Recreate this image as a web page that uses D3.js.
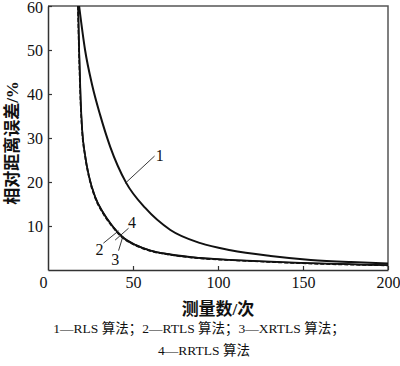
<!DOCTYPE html>
<html>
<head>
<meta charset="utf-8">
<script src="https://cdn.jsdelivr.net/npm/d3@7"></script>
<style>
  body { margin: 0; background: #fff; }
  svg { display: block; font-family: "Liberation Serif", "Noto Sans CJK SC", serif; }
</style>
</head>
<body>
<div class="chart"></div>
<script>
var rlsX = [18.3, 21.8, 26.0, 30.7, 36.6, 46.0, 57.2, 72.0, 89.7, 107.4, 131.0, 154.6, 178.2, 200];
var rlsY = [60, 50, 42.0, 35.2, 28.0, 19.8, 14.1, 9.1, 6.1, 4.5, 3.2, 2.3, 1.8, 1.5];

var rtlsX = [17.7, 18.3, 19.2, 20.1, 21.8, 24.2, 27.7, 32.4, 37.8, 43.7, 51.3, 60.2, 72.0, 89.7, 113.3, 148.7, 200];
var rtlsY = [60, 50, 38.6, 31.8, 26.1, 21.1, 16.6, 13.0, 10.0, 7.5, 5.7, 4.4, 3.5, 2.7, 2.2, 1.6, 1.1];

var xrtlsX = [17.5, 18.1, 19.0, 19.9, 21.6, 24.0, 27.5, 32.2, 37.6, 43.5, 51.1, 60.0, 72.0, 89.7, 113.3, 148.7, 200];
var xrtlsY = [60, 50, 38.6, 31.8, 26.1, 21.1, 16.5, 12.9, 9.9, 7.4, 5.6, 4.3, 3.4, 2.6, 2.1, 1.5, 1.0];

var rrtlsX = [17.8, 18.4, 19.3, 20.2, 21.9, 24.3, 27.8, 32.5, 37.9, 43.8, 51.4, 60.3, 72.0, 89.7, 113.3, 148.7, 200];
var rrtlsY = [60, 50, 38.6, 31.8, 26.2, 21.2, 16.7, 13.1, 10.1, 7.6, 5.8, 4.5, 3.6, 2.8, 2.2, 1.6, 1.1];

var xTicks = [0, 50, 100, 150, 200];
var yTicks = [10, 20, 30, 40, 50, 60];

// curve labels: point on curve, end of leader line, label position (data units)
var labelNames = ["1", "2", "3", "4"];
var labelCurve = [[45.4, 19.7], [41.5, 8.9], [44.1, 7.7], [39.5, 6.8]];
var labelEnd = [[62.7, 25.9], [32.6, 6.1], [41.5, 4.4], [47.4, 9.5]];
var labelPos = [[65.7, 26.1], [30.3, 4.7], [39.5, 2.4], [49.4, 10.8]];

var width = 400;
var height = 366;
var margin = {top: 6, right: 12, bottom: 96, left: 48};
var plotW = width - margin.left - margin.right;
var plotH = height - margin.top - margin.bottom;

var svg = d3.select(".chart").append("svg")
    .attr("width", width)
    .attr("height", height);

var g = svg.append("g")
    .attr("transform", "translate(" + margin.left + "," + margin.top + ")");

var x = d3.scaleLinear().domain([0, 200]).range([0, plotW]);
var y = d3.scaleLinear().domain([0, 60]).range([plotH, 0]);

svg.append("defs").append("clipPath").attr("id", "clip")
    .append("rect").attr("width", plotW).attr("height", plotH);

// frame (top & right)
g.append("path")
    .attr("d", "M0,0H" + plotW + "V" + plotH)
    .attr("fill", "none")
    .attr("stroke", "#555")
    .attr("stroke-width", 1.5);

var xAxis = g.append("g")
    .attr("transform", "translate(0," + plotH + ")")
    .call(d3.axisBottom(x).tickValues(xTicks).tickSizeInner(-4).tickSizeOuter(0).tickPadding(7));

var yAxis = g.append("g")
    .call(d3.axisLeft(y).tickValues(yTicks).tickSizeInner(-4).tickSizeOuter(0).tickPadding(5));

[xAxis, yAxis].forEach(function(a) {
    a.select(".domain").attr("stroke", "#333").attr("stroke-width", 1.5);
    a.selectAll(".tick line").attr("stroke", "#333").attr("stroke-width", 1.2);
    a.selectAll(".tick text")
        .attr("fill", "#111")
        .style("font-size", "16px")
        .style("font-family", "'Liberation Serif', serif");
});
xAxis.selectAll(".tick").filter(function(d) { return d === 0; }).select("line").remove();
xAxis.selectAll(".tick text").filter(function(d) { return d === 0; }).attr("x", -5);
yAxis.selectAll(".tick text").filter(function(d) { return d === 60; }).attr("dy", "0.42em");

var line = d3.line()
    .x(function(d) { return x(d[0]); })
    .y(function(d) { return y(d[1]); })
    .curve(d3.curveMonotoneX);

function pairs(xs, ys) { return xs.map(function(v, i) { return [v, ys[i]]; }); }

var series = [
    {pts: pairs(rlsX, rlsY), dash: null, w: 2},
    {pts: pairs(xrtlsX, xrtlsY), dash: "4,2", w: 1.3},
    {pts: pairs(rrtlsX, rrtlsY), dash: null, w: 1.2},
    {pts: pairs(rtlsX, rtlsY), dash: null, w: 1.8}
];

g.append("g").attr("clip-path", "url(#clip)")
    .selectAll("path")
    .data(series)
    .enter().append("path")
    .attr("d", function(d) { return line(d.pts); })
    .attr("fill", "none")
    .attr("stroke", "#111")
    .attr("stroke-width", function(d) { return d.w; })
    .attr("stroke-dasharray", function(d) { return d.dash; });

// leader lines + labels
labelNames.forEach(function(name, i) {
    g.append("line")
        .attr("x1", x(labelCurve[i][0])).attr("y1", y(labelCurve[i][1]))
        .attr("x2", x(labelEnd[i][0])).attr("y2", y(labelEnd[i][1]))
        .attr("stroke", "#222").attr("stroke-width", 0.9);
    g.append("text")
        .attr("x", x(labelPos[i][0])).attr("y", y(labelPos[i][1]))
        .attr("text-anchor", "middle")
        .attr("dominant-baseline", "central")
        .style("font-size", "16px")
        .attr("fill", "#111")
        .text(name);
});

// axis titles
svg.append("text")
    .attr("x", margin.left + plotW / 2)
    .attr("y", 315)
    .attr("text-anchor", "middle")
    .style("font-size", "17px")
    .style("font-weight", "bold")
    .attr("fill", "#111")
    .text("测量数/次");

svg.append("text")
    .attr("transform", "translate(12,143) rotate(-90)")
    .attr("text-anchor", "middle")
    .attr("dominant-baseline", "central")
    .style("font-size", "17px")
    .style("font-weight", "bold")
    .attr("fill", "#111")
    .text("相对距离误差/%");

// legend caption
var caption = ["1—RLS 算法；2—RTLS 算法；3—XRTLS 算法；", "4—RRTLS 算法"];
svg.selectAll(".caption")
    .data(caption)
    .enter().append("text")
    .attr("class", "caption")
    .attr("x", function(d, i) { return i ? 204 : 199; })
    .attr("y", function(d, i) { return 333 + i * 22; })
    .attr("text-anchor", "middle")
    .style("font-size", "13.5px")
    .attr("fill", "#111")
    .text(function(d) { return d; });
</script>
</body>
</html>
